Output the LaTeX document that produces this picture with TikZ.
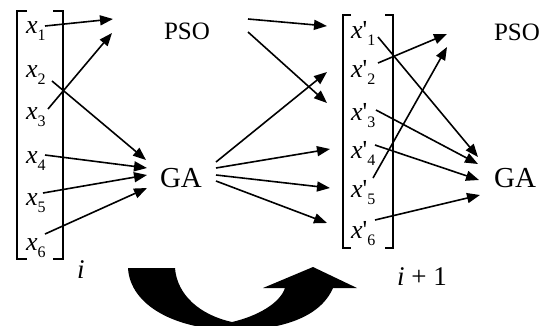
\documentclass[tikz,border=0pt]{standalone}
\usepackage{fontspec}
\setmainfont{Liberation Serif}
\usetikzlibrary{arrows.meta}
\newcommand\subx[1]{\raisebox{-0.3em}{\fontsize{16}{16}\selectfont #1}}
\begin{document}
\begin{tikzpicture}[x=1pt,y=-1pt,
  conn/.style={line width=1.6pt,-{Triangle[length=13pt,width=10pt]}},
  brk/.style={line width=1.3pt},
  xlab/.style={anchor=base west,inner sep=0pt,font=\fontsize{26}{26}\selectfont},
  algo/.style={anchor=base,inner sep=0pt,font=\fontsize{25}{25}\selectfont},
  gal/.style={anchor=base,inner sep=0pt,font=\fontsize{29}{29}\selectfont},
  itl/.style={anchor=base west,inner sep=0pt,font=\fontsize{27}{27}\selectfont}]
\useasboundingbox (0,0) rectangle (554,325);

% brackets
\draw[brk] (27,11) -- (17,11) -- (17,259) -- (27,259);
\draw[brk] (53,11) -- (63,11) -- (63,259) -- (53,259);
\draw[brk] (351,15) -- (343,15) -- (343,248) -- (351,248);
\draw[brk] (385,15) -- (393,15) -- (393,248) -- (385,248);

% left vector
\node[xlab] (x1) at (26,33) {\textit{x}\subx{1}};
\node[xlab] (x2) at (26,77) {\textit{x}\subx{2}};
\node[xlab] (x3) at (26,119) {\textit{x}\subx{3}};
\node[xlab] (x4) at (26,163) {\textit{x}\subx{4}};
\node[xlab] (x5) at (26,205) {\textit{x}\subx{5}};
\node[xlab] (x6) at (26,250) {\textit{x}\subx{6}};

% right vector
\node[xlab] (y1) at (351,38) {\textit{x}\textquotesingle\subx{1}};
\node[xlab] (y2) at (351,77) {\textit{x}\textquotesingle\subx{2}};
\node[xlab] (y3) at (351,120) {\textit{x}\textquotesingle\subx{3}};
\node[xlab] (y4) at (351,158) {\textit{x}\textquotesingle\subx{4}};
\node[xlab] (y5) at (351,197) {\textit{x}\textquotesingle\subx{5}};
\node[xlab] (y6) at (351,238) {\textit{x}\textquotesingle\subx{6}};

% algorithm labels
\node[algo] (pso1) at (187,39) {PSO};
\node[gal] (ga1) at (181,187) {GA};
\node[algo] (pso2) at (517,40) {PSO};
\node[gal] (ga2) at (515,187) {GA};

% iteration labels
\node[itl] (it1) at (77,278) {\textit{i}};
\node[itl] (it2) at (397,285) {\textit{i} + 1};

% connector end points
\coordinate (a1s) at (45,26);  \coordinate (a1e) at (113,19);
\coordinate (a3s) at (48,109); \coordinate (a3e) at (112,33);
\coordinate (a2s) at (52,81);  \coordinate (a2e) at (146,160);
\coordinate (a4s) at (45,155); \coordinate (a4e) at (147,168);
\coordinate (a5s) at (43,193); \coordinate (a5e) at (147,175);
\coordinate (a6s) at (45,234); \coordinate (a6e) at (147,188);

\coordinate (m1s) at (248,19);  \coordinate (m1e) at (327,26);
\coordinate (m2s) at (248,32);  \coordinate (m2e) at (327,103);
\coordinate (m3s) at (216,162); \coordinate (m3e) at (327,72);
\coordinate (m4s) at (216,168); \coordinate (m4e) at (330,149);
\coordinate (m5s) at (216,175); \coordinate (m5e) at (330,188);
\coordinate (m6s) at (216,181); \coordinate (m6e) at (327,223);

\coordinate (b1s) at (378,37);  \coordinate (b1e) at (478,157);
\coordinate (b2s) at (378,63);  \coordinate (b2e) at (447,34);
\coordinate (b3s) at (376,110); \coordinate (b3e) at (478,164);
\coordinate (b4s) at (375,145); \coordinate (b4e) at (479,180);
\coordinate (b5s) at (373,178); \coordinate (b5e) at (447,47);
\coordinate (b6s) at (375,220); \coordinate (b6e) at (480,195);

\foreach \p in {a1,a2,a3,a4,a5,a6,m1,m2,m3,m4,m5,m6,b1,b2,b3,b4,b5,b6}
  \draw[conn] (\p s) -- (\p e);

% big curved arrow
\begin{scope}
\clip (0,0) rectangle (554,325);
\fill (128,268) -- (175,268)
  .. controls (177,295) and (200,315) .. (232,322)
  .. controls (258,316) and (280,303) .. (285,288)
  -- (263,288) -- (313,267) -- (357,288) -- (333,288)
  .. controls (320,318) and (280,330) .. (235,330)
  .. controls (175,330) and (130,305) .. (128,268) -- cycle;
\end{scope}
\end{tikzpicture}
\end{document}
